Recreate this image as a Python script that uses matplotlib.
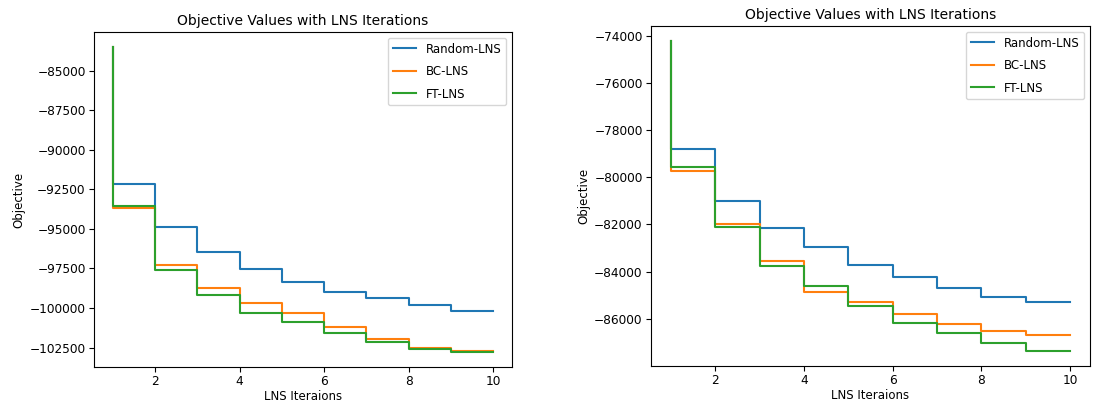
# Objective values vs LNS iterations, two instances side by side
import matplotlib.pyplot as plt

iters = [1, 2, 3, 4, 5, 6, 7, 8, 9, 10]
labels = ["Random-LNS", "BC-LNS", "FT-LNS"]
colors = ["#1f77b4", "#ff7f0e", "#2ca02c"]

# left instance
left_random = [-83520, -92150, -94900, -96485, -97520, -98325, -98960, -99385, -99805, -100165]
left_bc = [-83520, -93670, -97265, -98750, -99660, -100335, -101180, -101960, -102555, -102700]
left_ft = [-83520, -93565, -97605, -99170, -100335, -100860, -101560, -102130, -102620, -102765]

# right instance
right_random = [-74240, -78800, -80990, -82165, -82970, -83715, -84210, -84690, -85060, -85270]
right_bc = [-74240, -79720, -81980, -83565, -84850, -85300, -85790, -86215, -86500, -86670]
right_ft = [-74240, -79580, -82120, -83745, -84620, -85470, -86185, -86595, -87020, -87350]

plt.rcParams['font.family'] = ['DejaVu Sans']
fig = plt.figure(figsize=(11.02, 4.04), dpi=100)

W, H = 1102.0, 404.0
ax1 = fig.add_axes([94 / W, 1 - 367 / H, (512 - 94) / W, (367 - 32) / H])
ax2 = fig.add_axes([651 / W, 1 - 366 / H, (1090 - 651) / W, (366 - 26) / H])

for ax, series in [(ax1, [left_random, left_bc, left_ft]),
                   (ax2, [right_random, right_bc, right_ft])]:
    for ys, lab, c in zip(series, labels, colors):
        ax.step(iters, ys, where="pre", color=c, label=lab, linewidth=1.5)
    ax.set_title("Objective Values with LNS Iterations", fontsize=10, pad=5)
    ax.set_xlabel("LNS Iteraions", fontsize=8.5, labelpad=1)
    ax.set_ylabel("Objective", fontsize=8.5, labelpad=3)
    ax.tick_params(labelsize=8.7, pad=2.5)
    ax.set_xticks([2, 4, 6, 8, 10])
    ax.legend(loc="upper right", fontsize=8.5, labelspacing=0.8)

ax2.set_yticks([-74000, -76000, -78000, -80000, -82000, -84000, -86000])
ax1.set_yticks([-85000, -87500, -90000, -92500, -95000, -97500, -100000, -102500])

fig.savefig("out.png", dpi=100)
